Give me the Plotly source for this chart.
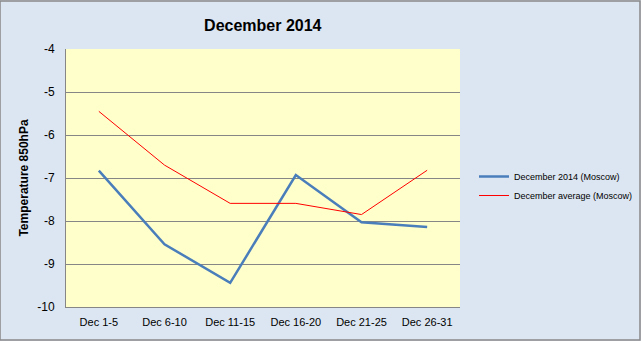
import plotly.graph_objects as go

categories = ["Dec 1-5", "Dec 6-10", "Dec 11-15", "Dec 16-20", "Dec 21-25", "Dec 26-31"]
dec2014 = [-6.83, -8.54, -9.44, -6.93, -8.03, -8.14]
dec_avg = [-5.45, -6.70, -7.59, -7.59, -7.85, -6.82]
y_ticks = [-10, -9, -8, -7, -6, -5, -4]
y_labels = ["-10", "-9", "-8", "-7", "-6", "-5", "-4"]

fig = go.Figure()
fig.add_trace(go.Scatter(x=categories, y=dec2014, mode="lines",
                         name="December 2014 (Moscow)",
                         line=dict(color="#4A7EBB", width=2.5)))
fig.add_trace(go.Scatter(x=categories, y=dec_avg, mode="lines",
                         name="December average (Moscow)",
                         line=dict(color="#FF0000", width=1)))

font = "Liberation Sans, Arial, sans-serif"
fig.update_layout(
    width=641, height=341,
    margin=dict(l=66, r=181, t=49, b=34, autoexpand=False),
    paper_bgcolor="#DCE6F2",
    plot_bgcolor="#FFFFCC",
    font=dict(family=font, size=11, color="#000000"),
    title=dict(text="<b>December 2014</b>", x=0.41, xanchor="center",
               y=0.925, yanchor="middle", font=dict(size=16, family=font)),
    xaxis=dict(type="category", showgrid=False, showline=True, linecolor="#868686",
               linewidth=1, ticks="", tickfont=dict(size=11), range=[-0.5, 5.5],
               ticklabelstandoff=5),
    yaxis=dict(range=[-10, -4], tickvals=y_ticks, ticktext=y_labels, showgrid=True,
               gridcolor="#868686", gridwidth=1, showline=True, linecolor="#868686",
               linewidth=1, zeroline=False, ticks="", tickfont=dict(size=12),
               ticklabelstandoff=8,
               title=dict(text="<b>Temperature 850hPa</b>", font=dict(size=12), standoff=6)),
    legend=dict(xref="container", yref="container", x=474/641, xanchor="left",
                y=1 - 186/341, yanchor="middle",
                bgcolor="rgba(0,0,0,0)", font=dict(size=9), itemwidth=30,
                tracegroupgap=4),
    showlegend=True,
    shapes=[dict(type="rect", xref="paper", yref="paper", x0=-66/394, x1=1+180/394,
                 y0=-33/258, y1=1+48/258, line=dict(color="#888888", width=1.5))],
)
fig.write_html("out.html")
